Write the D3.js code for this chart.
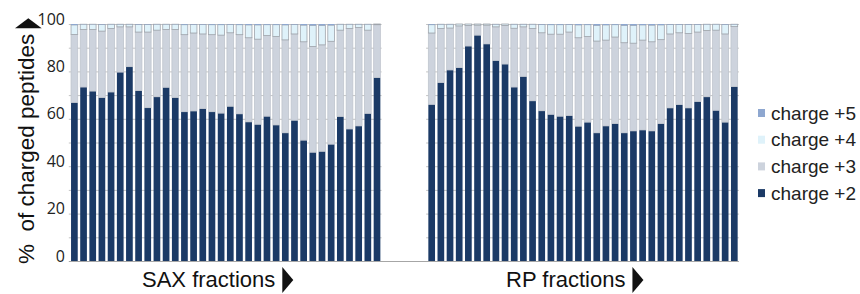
<!DOCTYPE html>
<html>
<head>
<meta charset="utf-8">
<script src="https://cdnjs.cloudflare.com/ajax/libs/d3/7.8.5/d3.min.js"></script>
<style>
	body { margin: 0; background: #fff; }
	svg { display: block; }
	.tick-label { font-family: 'Open Sans', sans-serif; font-size: 16px; fill: #222; }
	.title { font-family: 'Liberation Sans', Arial, sans-serif; fill: #111; }
</style>
</head>
<body>
<svg id="chart" width="860" height="294"></svg>
<script>
// fractions 1..34 on both panels
let fractions = d3.range(1, 35);

// SAX fractions, % of charged peptides per charge state
let sax2 = [66.9, 73.4, 71.7, 69.0, 71.3, 79.7, 82.0, 71.9, 64.7, 69.3, 73.3, 69.0, 63.0, 63.3, 64.3, 63.0, 62.4, 65.3, 62.1, 58.7, 57.7, 61.1, 57.4, 54.1, 59.4, 51.0, 45.9, 46.3, 49.3, 61.0, 55.7, 57.0, 62.3, 77.4];
let sax3 = [28.7, 24.3, 26.0, 28.0, 26.8, 19.1, 16.8, 24.7, 31.9, 28.1, 24.4, 28.7, 32.5, 32.9, 31.5, 32.5, 32.9, 31.0, 33.4, 35.5, 35.9, 34.0, 37.3, 39.2, 36.4, 41.5, 44.6, 44.9, 43.4, 36.4, 42.4, 41.5, 35.1, 22.3];
let sax4 = [4.0, 2.2, 2.2, 2.8, 1.8, 1.1, 1.1, 3.2, 3.2, 2.5, 2.2, 2.2, 4.2, 3.6, 4.0, 4.2, 4.4, 3.5, 4.2, 5.4, 6.0, 4.6, 5.0, 6.3, 4.0, 7.0, 8.9, 8.2, 6.8, 2.5, 1.8, 1.4, 2.5, 0.3];
let sax5 = [0.4, 0.1, 0.1, 0.2, 0.1, 0.1, 0.1, 0.2, 0.2, 0.1, 0.1, 0.1, 0.3, 0.2, 0.2, 0.3, 0.3, 0.2, 0.3, 0.4, 0.4, 0.3, 0.3, 0.4, 0.2, 0.5, 0.6, 0.6, 0.5, 0.1, 0.1, 0.1, 0.1, 0.0];

// RP fractions
let rp2 = [66.1, 75.3, 80.6, 81.6, 90.7, 95.3, 91.6, 84.6, 83.1, 73.4, 77.9, 67.6, 63.4, 61.9, 61.1, 61.4, 56.9, 58.6, 54.1, 57.0, 58.0, 54.1, 54.9, 55.3, 54.9, 58.0, 64.6, 66.0, 64.6, 67.3, 69.3, 63.6, 58.6, 73.6];
let rp3 = [30.1, 22.8, 17.7, 17.6, 8.7, 4.2, 7.9, 14.2, 16.3, 24.8, 20.9, 30.5, 32.9, 33.8, 34.6, 35.2, 37.3, 36.1, 38.7, 36.2, 36.5, 38.0, 37.0, 37.9, 37.6, 35.4, 31.2, 30.3, 31.4, 29.3, 28.0, 33.8, 37.2, 25.3];
let rp4 = [3.5, 1.8, 1.6, 0.8, 0.6, 0.5, 0.5, 1.1, 0.6, 1.7, 1.1, 1.8, 3.5, 4.0, 4.0, 3.2, 5.4, 5.0, 6.6, 6.4, 5.2, 7.3, 7.5, 6.4, 7.0, 6.2, 4.0, 3.5, 3.8, 3.2, 2.6, 2.5, 4.0, 1.0];
let rp5 = [0.3, 0.1, 0.1, 0.0, 0.0, 0.0, 0.0, 0.1, 0.0, 0.1, 0.1, 0.1, 0.2, 0.3, 0.3, 0.2, 0.4, 0.3, 0.6, 0.4, 0.3, 0.6, 0.6, 0.4, 0.5, 0.4, 0.2, 0.2, 0.2, 0.2, 0.1, 0.1, 0.2, 0.1];

let charges = ['c2', 'c3', 'c4', 'c5'];
let legendLabels = ['charge +5', 'charge +4', 'charge +3', 'charge +2'];
let yTicks = [0, 20, 40, 60, 80, 100];

let colors = { c2: '#1b3a66', c3: '#cdd3dd', c4: '#dff2fa', c5: '#8ea7d0' };
let strokes = { c2: 'none', c3: '#bfc5ce', c4: '#9fa4ab', c5: 'none' };

let svg = d3.select('#chart');

let y = d3.scaleLinear().domain([0, 100]).range([261, 24]);

let panels = [
	{ id: 'sax', label: 'SAX fractions', range: [69.8, 381.6], textX: 142, s: [sax2, sax3, sax4, sax5] },
	{ id: 'rp', label: 'RP fractions', range: [427.1, 738.9], textX: 506, s: [rp2, rp3, rp4, rp5] }
];

let stack = d3.stack().keys(charges);

panels.forEach(function(p) {
	let x = d3.scaleBand()
		.domain(fractions)
		.range(p.range)
		.paddingInner(0.27)
		.paddingOuter(0.135);

	let g = svg.append('g').attr('class', 'panel ' + p.id);

	// gridlines every 10%
	g.selectAll('.grid')
		.data(d3.range(10, 101, 10))
		.enter()
		.append('line')
		.attr('class', 'grid')
		.attr('x1', p.range[0] - 1)
		.attr('x2', p.range[1])
		.attr('y1', function(d) { return y(d) + 0.5 })
		.attr('y2', function(d) { return y(d) + 0.5 })
		.style('stroke', '#c4c4c4')
		.style('stroke-width', 1);

	let rows = fractions.map(function(f, i) {
		return { fraction: f, c2: p.s[0][i], c3: p.s[1][i], c4: p.s[2][i], c5: p.s[3][i] };
	});

	let layers = g.selectAll('.layer')
		.data(stack(rows))
		.enter()
		.append('g')
		.attr('class', function(d) { return 'layer ' + d.key })
		.style('fill', function(d) { return colors[d.key] })
		.style('stroke', function(d) { return strokes[d.key] })
		.style('stroke-width', 0.8);

	layers.selectAll('rect')
		.data(function(d) { return d; })
		.enter()
		.append('rect')
		.attr('x', function(d) { return x(d.data.fraction) })
		.attr('width', x.bandwidth())
		.attr('y', function(d) { return y(d[1]) })
		.attr('height', function(d) { return Math.max(0, y(d[0]) - y(d[1])) });

	// x title + arrow
	let t = svg.append('text')
		.attr('class', 'title')
		.attr('x', p.textX)
		.attr('y', 287)
		.style('font-size', '22px')
		.text(p.label);
	let tx = p.textX + t.node().getComputedTextLength() + 7;
	svg.append('path')
		.attr('d', 'M' + tx + ',267L' + tx + ',293L' + (tx + 11) + ',280Z')
		.style('fill', '#111');
});

// baseline across both panels
svg.append('line')
	.attr('x1', 68.8).attr('x2', 738.9)
	.attr('y1', y(0) + 0.5).attr('y2', y(0) + 0.5)
	.style('stroke', '#a6a6a6')
	.style('stroke-width', 1.2);

// y tick labels (sit a little above their gridline, as in the original)
svg.selectAll('.tick-label')
	.data(yTicks)
	.enter()
	.append('text')
	.attr('class', 'tick-label')
	.attr('x', 65)
	.attr('y', function(d) { return y(d) - 5 })
	.attr('dy', '0.35em')
	.attr('text-anchor', 'end')
	.text(function(d) { return d });

// y title + up arrow
svg.append('text')
	.attr('class', 'title')
	.attr('transform', 'translate(34,264) rotate(-90)')
	.style('font-size', '22.5px')
	.style('white-space', 'pre')
	.text('%  of charged peptides');
svg.append('path')
	.attr('d', 'M15,28.3L41.7,28.3L28.3,18.3Z')
	.style('fill', '#111');

// legend
let legend = svg.selectAll('.legend')
	.data(legendLabels)
	.enter()
	.append('g')
	.attr('class', 'legend')
	.attr('transform', function(d, i) { return 'translate(758,' + (113 + i * 26.7) + ')' });

legend.append('rect')
	.attr('x', 0)
	.attr('y', -4)
	.attr('width', 7)
	.attr('height', 8)
	.style('fill', function(d) { return colors['c' + d.slice(-1)] });

legend.append('text')
	.attr('class', 'title')
	.attr('x', 13)
	.attr('dy', '0.35em')
	.style('font-size', '19px')
	.style('fill', '#222')
	.text(function(d) { return d });
</script>
</body>
</html>
